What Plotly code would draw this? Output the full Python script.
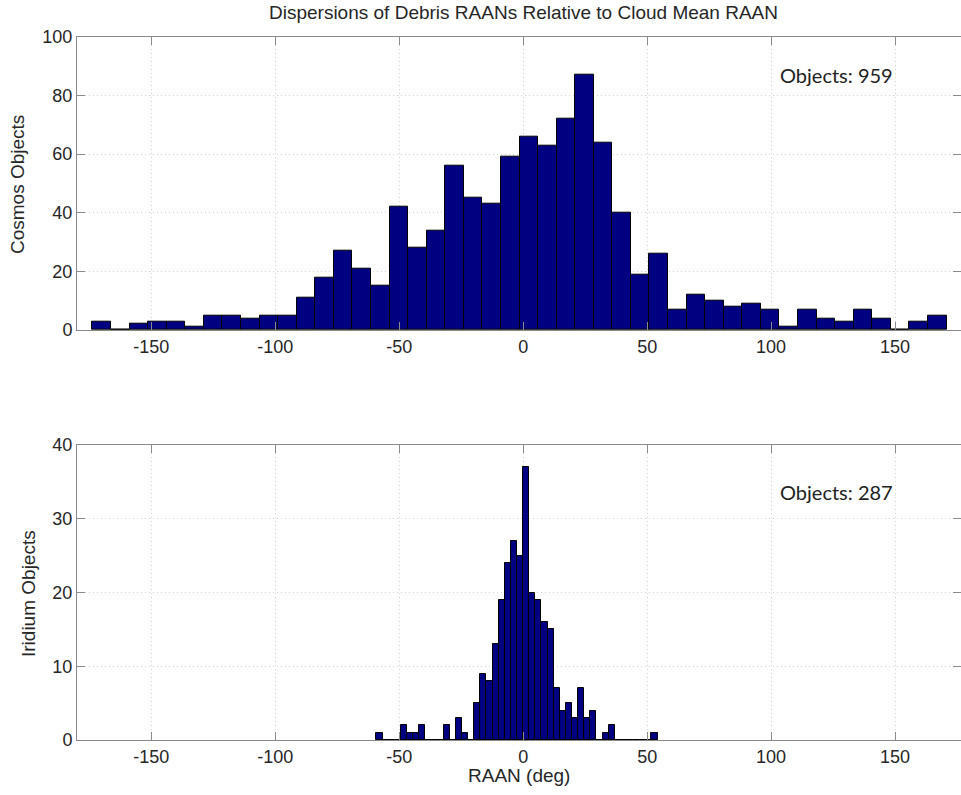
import numpy as np
import plotly.graph_objects as go

# ---------------- data ----------------
# Cosmos debris: 46 equal-width bins spanning the edges below (deg)
cosmos_bin_lo = -173.8
cosmos_bin_hi = 170.8
cosmos_counts = [3, 0, 2, 3, 3, 1, 5, 5, 4, 5, 5, 11, 18, 27, 21, 15, 42, 28, 34, 56,
                 45, 43, 59, 66, 63, 72, 87, 64, 40, 19, 26, 7, 12, 10, 8, 9, 7, 1, 7, 4,
                 3, 7, 4, 0, 3, 5]

# Iridium debris: 46 equal-width bins spanning the edges below (deg)
iridium_bin_lo = -59.2
iridium_bin_hi = 54.2
iridium_counts = [1, 0, 0, 0, 2, 1, 1, 2, 0, 0, 0, 2, 0, 3, 1, 0, 5, 9, 8, 13,
                  19, 24, 27, 25, 37, 20, 19, 16, 15, 7, 4, 5, 3, 7, 3, 4, 0, 1, 2, 0,
                  0, 0, 0, 0, 0, 1]

x_ticks = [-150, -100, -50, 0, 50, 100, 150]
x_ticktext = ["-150", "-100", "-50", "0", "50", "100", "150"]
cosmos_yticks = [0, 20, 40, 60, 80, 100]
iridium_yticks = [0, 10, 20, 30, 40]

title_text = "Dispersions of Debris RAANs Relative to Cloud Mean RAAN"
cosmos_label = "Cosmos Objects"
iridium_label = "Iridium Objects"
x_label = "RAAN (deg)"
cosmos_note = "Objects: 959"
iridium_note = "Objects: 287"


def bin_centers(lo, hi, n):
    edges = np.linspace(lo, hi, n + 1)
    return (edges[:-1] + edges[1:]) / 2, (hi - lo) / n


cx, cw = bin_centers(cosmos_bin_lo, cosmos_bin_hi, len(cosmos_counts))
ix, iw = bin_centers(iridium_bin_lo, iridium_bin_hi, len(iridium_counts))

W, H = 961, 795
L = 77
BAR_FILL = "#000080"
AX = "#8a8a8a"
GRID = "#d2d2d2"
GRID_DASH = "1px,3px"
TXT = "#262626"
FONT = "Liberation Sans, Arial, sans-serif"

fig = go.Figure()
fig.add_trace(go.Bar(x=cx, y=cosmos_counts, width=cw, marker=dict(color=BAR_FILL, line=dict(color="black", width=1)),
                     xaxis="x", yaxis="y", showlegend=False))
fig.add_trace(go.Bar(x=ix, y=iridium_counts, width=iw, marker=dict(color=BAR_FILL, line=dict(color="black", width=1)),
                     xaxis="x2", yaxis="y2", showlegend=False))


def pfy(py):
    return 1 - py / H


common_x = dict(range=[-180, 176.6], tickvals=x_ticks, ticktext=x_ticktext, ticks="inside", ticklen=8, tickcolor=AX,
                showline=True, linecolor=AX, linewidth=1, mirror="ticks",
                showgrid=True, gridcolor=GRID, griddash=GRID_DASH, gridwidth=1,
                zeroline=False, automargin=False, tickfont=dict(family=FONT, size=18, color=TXT))
common_y = dict(ticks="inside", ticklen=8, tickcolor=AX,
                showline=True, linecolor=AX, linewidth=1, mirror="ticks",
                showgrid=True, gridcolor=GRID, griddash=GRID_DASH, gridwidth=1,
                zeroline=False, automargin=False, tickfont=dict(family=FONT, size=18, color=TXT))

fig.update_layout(
    width=W, height=H, autosize=False,
    margin=dict(l=L, r=0, t=0, b=0, pad=0),
    paper_bgcolor="white", plot_bgcolor="white",
    bargap=0,
    xaxis=dict(domain=[0, 1], anchor="y", **common_x),
    yaxis=dict(domain=[pfy(330), pfy(36.7)], range=[0, 100], tickvals=cosmos_yticks, anchor="x", **common_y),
    xaxis2=dict(domain=[0, 1], anchor="y2", **common_x),
    yaxis2=dict(domain=[pfy(740), pfy(445)], range=[0, 40], tickvals=iridium_yticks, anchor="x2", **common_y),
)

pw = W - L


def pfx(px):
    return (px - L) / pw


ann_font = dict(family=FONT, size=19, color=TXT)
fig.add_annotation(text=title_text, xref="paper", yref="paper", x=pfx(523), y=pfy(13),
                   showarrow=False, xanchor="center", yanchor="middle",
                   font=dict(family=FONT, size=19, color=TXT))
fig.add_annotation(text=cosmos_label, xref="paper", yref="paper", x=pfx(18), y=pfy(185),
                   showarrow=False, textangle=-90, xanchor="center", yanchor="middle", font=ann_font)
fig.add_annotation(text=iridium_label, xref="paper", yref="paper", x=pfx(28), y=pfy(594),
                   showarrow=False, textangle=-90, xanchor="center", yanchor="middle", font=ann_font)
fig.add_annotation(text=x_label, xref="paper", yref="paper", x=pfx(519), y=pfy(775),
                   showarrow=False, xanchor="center", yanchor="middle", font=ann_font)

note_font = dict(family="Lato, Noto Sans, sans-serif", size=20, color="#222222")
fig.add_annotation(text=cosmos_note, xref="x", yref="y", x=102.8, y=86.9, showarrow=False,
                   xanchor="left", yanchor="middle", font=note_font)
fig.add_annotation(text=iridium_note, xref="x2", yref="y2", x=102.8, y=33.6, showarrow=False,
                   xanchor="left", yanchor="middle", font=note_font)

fig.write_html("out.html", config={"displayModeBar": False},
               post_script="document.body.style.margin='0';document.body.style.overflow='hidden';")
